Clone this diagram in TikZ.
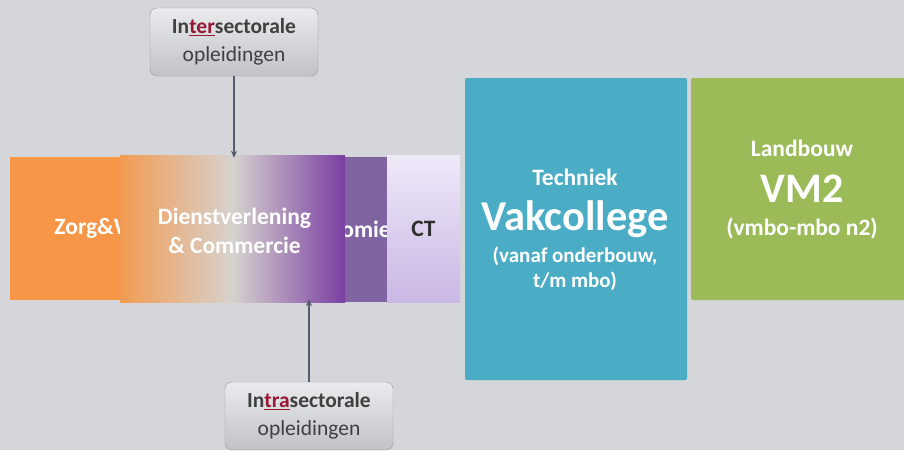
\documentclass[tikz,border=0pt]{standalone}
\usepackage{fontspec}
\setmainfont{Carlito}
\usetikzlibrary{arrows.meta}
\definecolor{bggray}{RGB}{213,214,218}
\definecolor{zorgorange}{RGB}{247,150,70}
\definecolor{econpurple}{RGB}{128,100,162}
\definecolor{dvorange}{RGB}{242,155,82}
\definecolor{dvgray}{RGB}{214,210,206}
\definecolor{dvpurple}{RGB}{122,62,162}
\definecolor{cttop}{RGB}{238,233,248}
\definecolor{ctbottom}{RGB}{203,183,228}
\definecolor{vakblue}{RGB}{75,172,198}
\definecolor{landgreen}{RGB}{155,187,89}
\definecolor{arrowgray}{RGB}{82,92,108}
\definecolor{calltop}{RGB}{234,235,237}
\definecolor{callbottom}{RGB}{192,194,199}
\definecolor{callborder}{RGB}{152,154,160}
\definecolor{textgray}{RGB}{64,64,64}
\definecolor{accentred}{RGB}{150,25,55}
\tikzset{>=stealth,
  sector/.style={inner sep=0pt, text=white, font=\bfseries\fontsize{23.5}{29}\selectfont, align=center},
  boxline/.style={anchor=base, inner sep=0pt, text=white, font=\bfseries\fontsize{23.5}{29}\selectfont},
  callout/.style={draw=callborder, rounded corners=7pt, top color=calltop, bottom color=callbottom,
    minimum width=168pt, minimum height=68pt, text=textgray, align=center,
    font=\fontsize{21.5}{28}\selectfont},
  pointer/.style={->, >={Stealth[length=7pt,width=6pt]}, line width=1.6pt, color=arrowgray}
}
\newcommand{\acc}[1]{\textcolor{accentred}{\underline{#1}}}
\begin{document}
\begin{tikzpicture}[x=1pt, y=-1pt]
    \useasboundingbox (0,0) rectangle (904,450);
    \fill [bggray] (0,0) rectangle (904,450);
    % sector boxes, back to front
    \node [sector, fill=zorgorange, minimum width=220pt, minimum height=143pt] (zorg) at (120,228.5) {Zorg\&Welzijn};
    \node [sector, fill=econpurple, minimum width=218pt, minimum height=145pt] (econ) at (343,229) {Economie};
    \node [sector, left color=dvorange, right color=dvpurple, middle color=dvgray, minimum width=225pt, minimum height=147pt] (dienst) at (232.5,228.5) {};
    \node [sector] (diensttext) at (234.5,231) {Dienstverlening\\\& Commercie};
    \node [sector, top color=cttop, bottom color=ctbottom, text=black!82, minimum width=73pt, minimum height=147pt] (ct) at (423.5,228.5) {CT};
    \node [sector, fill=vakblue, rounded corners=2pt, minimum width=222pt, minimum height=302pt] (vak) at (576,229) {};
    \node [sector, fill=landgreen, rounded corners=2pt, minimum width=230pt, minimum height=222pt] (land) at (806,189) {};
    % texts in the big boxes
    \node [boxline] (vak1) at (575,185) {Techniek};
    \node [boxline, font=\bfseries\fontsize{42.5}{46}\selectfont] (vak2) at (575,230) {Vakcollege};
    \node [boxline, font=\bfseries\fontsize{21}{25}\selectfont] (vak3) at (575,262) {(vanaf onderbouw,};
    \node [boxline, font=\bfseries\fontsize{21}{25}\selectfont] (vak4) at (575,287) {t/m mbo)};
    \node [boxline] (land1) at (802,156) {Landbouw};
    \node [boxline, font=\bfseries\fontsize{42}{46}\selectfont] (land2) at (802,202) {VM2};
    \node [boxline] (land3) at (802,235) {(vmbo-mbo n2)};
    % callouts
    \node [callout] (inter) at (234,42) {\textbf{In\acc{ter}sectorale}\\opleidingen};
    \node [callout] (intra) at (309,416) {\textbf{In\acc{tra}sectorale}\\opleidingen};
    \draw [pointer] (inter.south) -- ([yshift=-3pt]inter.south |- dienst.north);
    \draw [pointer] (intra.north) -- ([yshift=3pt]intra.north |- dienst.south);
\end{tikzpicture}
\end{document}
